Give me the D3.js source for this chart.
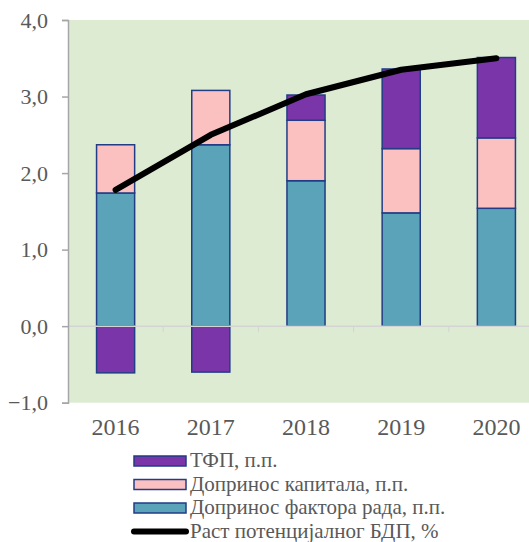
<!DOCTYPE html>
<html>
<head>
<meta charset="utf-8">
<script src="https://cdn.jsdelivr.net/npm/d3@7"></script>
<style>
  body { margin: 0; background: #ffffff; }
</style>
</head>
<body>
<div id="chart"></div>
<script>
// data
var years = ["2016", "2017", "2018", "2019", "2020"];
var labor = [1.74, 2.37, 1.90, 1.48, 1.54];
var capital = [0.63, 0.71, 0.79, 0.84, 0.92];
var tfp = [-0.61, -0.60, 0.33, 1.04, 1.05];
var potential = [1.78, 2.50, 3.03, 3.35, 3.50];
var yTicks = [-1, 0, 1, 2, 3, 4];

var seriesNames = {
    tfp: "ТФП, п.п.",
    capital: "Допринос капитала, п.п.",
    labor: "Допринос фактора рада, п.п.",
    line: "Раст потенцијалног БДП, %"
};
var colors = {tfp: "#7a36a8", capital: "#fbc0c0", labor: "#5ba3b8"};
var serif = "'Liberation Serif', 'DejaVu Serif', serif";

var W = 529, H = 542;
// plot area (the right edge runs past the picture, as in the original)
var plotLeft = 68, plotRight = 544, plotTop = 20, plotBottom = 402.7;

var svg = d3.select("#chart").append("svg")
    .attr("width", W)
    .attr("height", H)
    .attr("font-family", serif);

var x = d3.scaleBand()
    .domain(years)
    .range([plotLeft, plotRight])
    .paddingInner(0.6)
    .paddingOuter(0.3);

var y = d3.scaleLinear()
    .domain([-1, 4])
    .range([plotBottom, plotTop]);

// plot background
svg.append("rect")
    .attr("x", plotLeft)
    .attr("y", plotTop)
    .attr("width", W - plotLeft)
    .attr("height", plotBottom - plotTop)
    .attr("fill", "#ddebd3");

// stacked bars
var rows = years.map(function(yr, i) {
    return {year: yr, labor: labor[i], capital: capital[i], tfp: tfp[i]};
});
var stack = d3.stack()
    .keys(["labor", "capital", "tfp"])
    .offset(d3.stackOffsetDiverging);
var layers = stack(rows);

svg.selectAll(".layer")
    .data(layers)
    .enter().append("g")
    .attr("class", "layer")
    .attr("fill", function(d) { return colors[d.key]; })
    .selectAll("rect")
    .data(function(d) { return d; })
    .enter().append("rect")
    .attr("x", function(d) { return x(d.data.year); })
    .attr("width", x.bandwidth())
    .attr("y", function(d) { return y(Math.max(d[0], d[1])); })
    .attr("height", function(d) { return Math.abs(y(d[0]) - y(d[1])); })
    .attr("stroke", "#213d86")
    .attr("stroke-width", 1.5);

// zero line and category ticks
svg.append("line")
    .attr("x1", plotLeft).attr("x2", W)
    .attr("y1", y(0)).attr("y2", y(0))
    .attr("stroke", "#d4d4d4")
    .attr("stroke-width", 1.5);

var step = x.step();
svg.selectAll(".cattick")
    .data(years.slice(1))
    .enter().append("line")
    .attr("class", "cattick")
    .attr("x1", function(d) { return x(d) - step * 0.3; })
    .attr("x2", function(d) { return x(d) - step * 0.3; })
    .attr("y1", y(0))
    .attr("y2", y(0) + 6)
    .attr("stroke", "#d4d4d4")
    .attr("stroke-width", 1);

// y axis
var yAxis = svg.append("g")
    .attr("transform", "translate(" + plotLeft + ",0)")
    .call(d3.axisLeft(y)
        .tickValues(yTicks)
        .tickSize(6)
        .tickPadding(14)
        .tickFormat(function(d) { return d3.format(".1f")(d).replace(".", ","); }));
yAxis.attr("font-family", serif).attr("font-size", null);
yAxis.select(".domain").attr("stroke", "#a6a6a6").attr("stroke-width", 1.5);
yAxis.selectAll(".tick line").attr("stroke", "#a6a6a6").attr("stroke-width", 1.5);
yAxis.selectAll(".tick text")
    .attr("fill", "#595959")
    .attr("font-family", serif)
    .attr("font-size", 22);

// x labels
svg.selectAll(".xlabel")
    .data(years)
    .enter().append("text")
    .attr("class", "xlabel")
    .attr("x", function(d) { return x(d) + x.bandwidth() / 2; })
    .attr("y", 435)
    .attr("text-anchor", "middle")
    .attr("fill", "#595959")
    .attr("font-family", serif)
    .attr("font-size", 24)
    .text(function(d) { return d; });

// potential GDP line
var line = d3.line()
    .x(function(d, i) { return x(years[i]) + x.bandwidth() / 2; })
    .y(function(d) { return y(d); });

svg.append("path")
    .datum(potential)
    .attr("d", line)
    .attr("fill", "none")
    .attr("stroke", "#000000")
    .attr("stroke-width", 6)
    .attr("stroke-linecap", "round")
    .attr("stroke-linejoin", "round");

// legend
var legend = [
    {key: "tfp", type: "bar"},
    {key: "capital", type: "bar"},
    {key: "labor", type: "bar"},
    {key: "line", type: "line"}
];
var lg = svg.selectAll(".legend")
    .data(legend)
    .enter().append("g")
    .attr("class", "legend")
    .attr("transform", function(d, i) { return "translate(0," + (461 + i * 23.5) + ")"; });

lg.filter(function(d) { return d.type == "bar"; })
    .append("rect")
    .attr("x", 134)
    .attr("y", -5)
    .attr("width", 52)
    .attr("height", 10)
    .attr("fill", function(d) { return colors[d.key]; })
    .attr("stroke", "#213d86")
    .attr("stroke-width", 1.5);

lg.filter(function(d) { return d.type == "line"; })
    .append("line")
    .attr("x1", 134).attr("x2", 186)
    .attr("y1", 0).attr("y2", 0)
    .attr("stroke", "#000000")
    .attr("stroke-width", 6)
    .attr("stroke-linecap", "round");

lg.append("text")
    .attr("x", 190)
    .attr("y", 0)
    .attr("dy", "0.3em")
    .attr("fill", "#595959")
    .attr("font-family", serif)
    .attr("font-size", 21)
    .text(function(d) { return seriesNames[d.key]; });
</script>
</body>
</html>
